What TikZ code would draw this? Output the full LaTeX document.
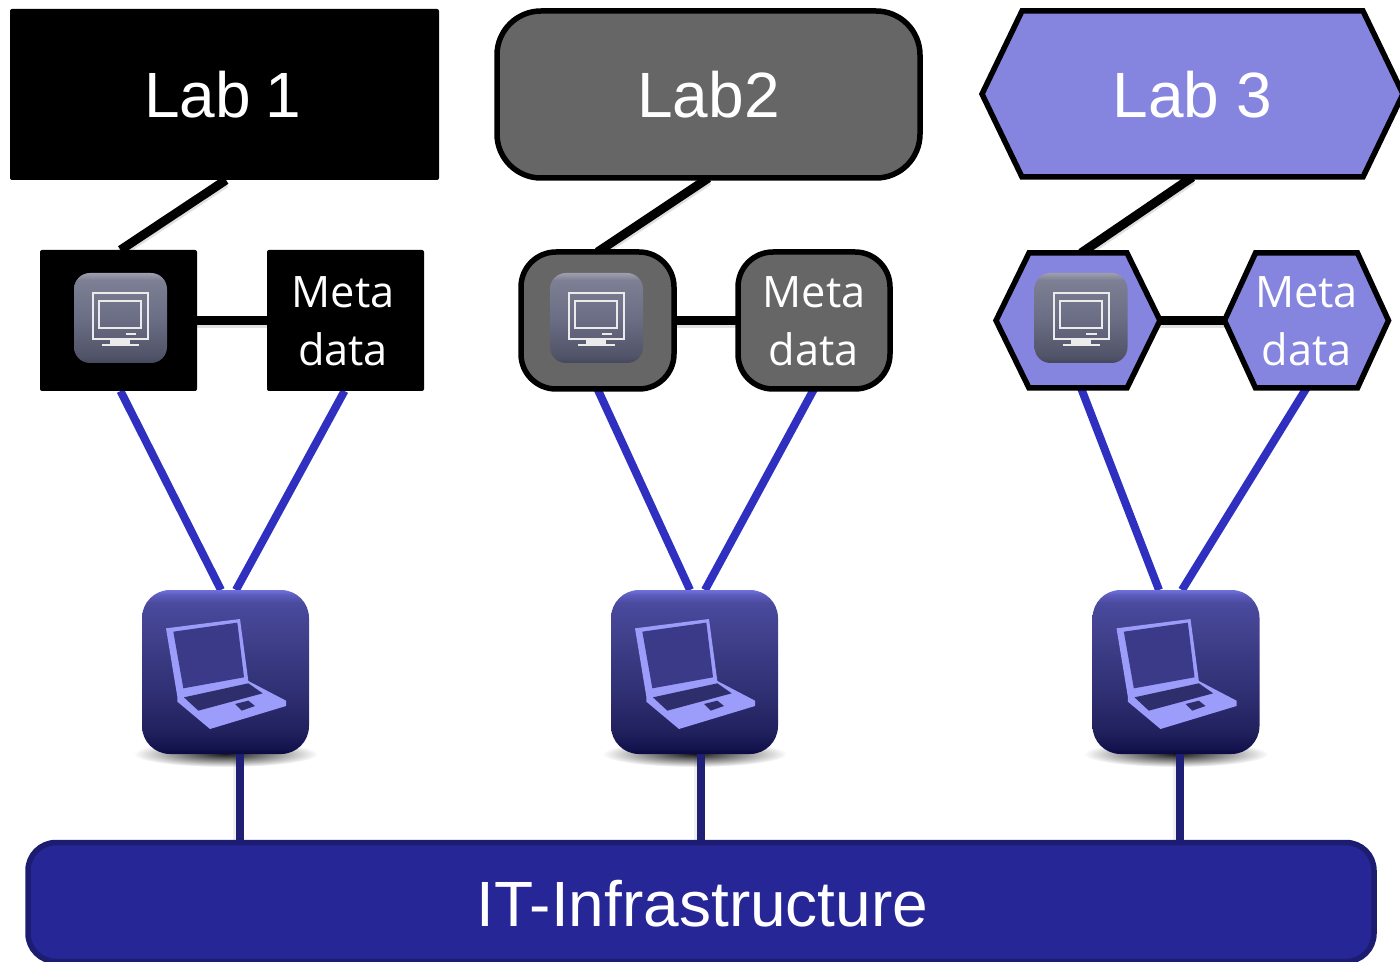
\documentclass[tikz,border=0pt]{standalone}
\usepackage{fontspec}
\setmainfont{Liberation Sans}
\newfontfamily\metafont{Open Sans}
\usetikzlibrary{fadings}
\pgfdeclarelayer{conn}\pgfdeclarelayer{bodies}
\pgfsetlayers{conn,bodies,main}
\newcommand\upx{*0.75pt}
\definecolor{labgray}{HTML}{666666}
\definecolor{labviolet}{HTML}{8585DF}
\definecolor{wireblue}{HTML}{3030C0}
\definecolor{wirenavy}{HTML}{1F1F75}
\definecolor{itfill}{HTML}{262696}
\definecolor{itline}{HTML}{1C1C70}
\definecolor{lapglyph}{HTML}{9C9CFA}
\definecolor{labdark}{HTML}{3A3A88}
\pgfdeclareverticalshading{lapshade}{100bp}{
 rgb(0bp)=(.04,.04,.25); rgb(25bp)=(.04,.04,.25);
 rgb(26.5bp)=(.07,.07,.30); rgb(32bp)=(.13,.13,.37); rgb(45bp)=(.19,.19,.46);
 rgb(58bp)=(.24,.24,.53); rgb(71bp)=(.29,.29,.62);
 rgb(73.5bp)=(.36,.36,.74); rgb(75bp)=(.44,.44,.86); rgb(100bp)=(.44,.44,.86)}
\pgfdeclareverticalshading{vmshade}{100bp}{
 rgb(0bp)=(.27,.28,.36); rgb(25bp)=(.27,.28,.36);
 rgb(29bp)=(.32,.33,.41); rgb(50bp)=(.42,.43,.52);
 rgb(71bp)=(.49,.50,.58); rgb(75bp)=(.62,.62,.68); rgb(100bp)=(.62,.62,.68)}
\tikzfading[name=softblob,inner color=transparent!0,outer color=transparent!100]
\tikzset{
 x=0.75pt,y=-0.75pt,
 box/.style={inner sep=0pt,outer sep=0pt,text=white,align=center},
 bigtext/.style={font=\fontsize{48}{57}\selectfont},
 metatext/.style={font=\metafont\fontsize{32.5}{43}\selectfont},
 squarebox/.style={box,fill=black,rounded corners=2\upx},
 roundbox/.style={box,draw=black,line width=5.5\upx,fill=labgray},
 hexnode/.style={box},
 hexbody/.style={draw=black,line width=5.5\upx,fill=labviolet,line join=miter},
 blackwire/.style={draw=black,line width=9\upx,preaction={draw=black,draw opacity=.12,line width=9\upx,transform canvas={yshift=-3\upx}}},
 bluewire/.style={draw=wireblue,line width=8\upx},
 navywire/.style={draw=wirenavy,line width=8\upx,preaction={draw=black,draw opacity=.06,line width=8\upx,transform canvas={xshift=-3\upx}}},
 lapicon/.style={inner sep=0pt,outer sep=0pt,minimum width=167\upx,minimum height=164\upx,rounded corners=28\upx,shading=lapshade},
 vmicon/.style={inner sep=0pt,outer sep=0pt,minimum width=93\upx,minimum height=90\upx,rounded corners=16\upx,shading=vmshade},
 softshadow/.style={fill=black,path fading=softblob},
 lapglyphpic/.pic={
  \begin{scope}[xshift=-22\upx,yshift=10\upx,scale=1/3]
   \fill[lapglyph,line join=round] (138,145) -- (360,117) -- (385,303) -- (498,362) -- (498,378) -- (270,447) -- (172,365) -- (172,350) -- cycle;
   \fill[labdark] (160,155) -- (352,128) -- (372,292) -- (190,325) -- cycle;
   \fill[labdark!80!black] (192,352) -- (385,310) -- (428,340) -- (235,392) -- cycle;
   \fill[labdark!80!black] (345,372) -- (385,362) -- (405,378) -- (365,392) -- cycle;
  \end{scope}},
 vmglyphpic/.pic={
  \begin{scope}[white!92!black,line width=2\upx,xshift=-74.3\upx,yshift=272.7\upx]
   \draw (93.3,292.3) rectangle (148.3,339);
   \draw (99.3,301) rectangle (141.7,327.3);
   \draw (126,333.3) -- (136.7,333.3);
   \fill (110.7,340) rectangle (130.7,345);
   \draw (102.7,345) -- (139.3,345);
  \end{scope}}
}
\newcommand\hexpath[2]{%
 \begin{pgfonlayer}{bodies}
 \draw[hexbody] (#1.west) -- ([xshift=#2\upx]#1.north west) -- ([xshift=-#2\upx]#1.north east) -- (#1.east) -- ([xshift=-#2\upx]#1.south east) -- ([xshift=#2\upx]#1.south west) -- cycle;
 \end{pgfonlayer}}
\newcommand\baselineat[2]{\raisebox{-#1pt}[1pt][1pt]{#2}}
\newcommand\metalines[1]{\raisebox{0pt}[24.2pt][0pt]{Meta}\hspace*{#1}\\\raisebox{0pt}[0pt][0pt]{data}\hspace*{#1}}
\begin{document}
\begin{tikzpicture}
\useasboundingbox (0,0) rectangle (1400,962);
% labs
\node[squarebox,bigtext,minimum width=429\upx,minimum height=171\upx] (lab1) at (224.5,94.5) {\baselineat{17.4}{Lab\hspace{-2.5pt} 1}\hspace{3pt}};
\node[roundbox,bigtext,minimum width=423\upx,minimum height=167\upx,rounded corners=44\upx] (lab2) at (708.5,94.5) {\baselineat{17.4}{Lab2}};
\node[hexnode,bigtext,minimum width=421\upx,minimum height=166\upx] (lab3) at (1192.5,94) {\baselineat{17.7}{Lab 3}};
\hexpath{lab3}{40}
% vm / meta boxes
\node[squarebox,minimum width=157\upx,minimum height=141\upx] (vmbox1) at (118.5,320.5) {};
\node[squarebox,metatext,minimum width=157\upx,minimum height=141\upx] (meta1) at (345.5,320.5) {\metalines{3.7pt}};
\node[roundbox,minimum width=153\upx,minimum height=137\upx,rounded corners=35\upx] (vmbox2) at (597.5,320.5) {};
\node[roundbox,metatext,minimum width=152\upx,minimum height=137\upx,rounded corners=35\upx] (meta2) at (814,320.5) {\metalines{0pt}};
\node[hexnode,minimum width=164\upx,minimum height=135\upx] (vmbox3) at (1078,320.5) {};
\hexpath{vmbox3}{33}
\node[hexnode,metatext,minimum width=164\upx,minimum height=135\upx] (meta3) at (1306.5,320.5) {\metalines{0pt}};
\hexpath{meta3}{31}
% vm icons
\node[vmicon] (vm1) at (120.5,318) {};
\node[vmicon] (vm2) at (596.5,318) {};
\node[vmicon] (vm3) at (1081,318) {};
\foreach \n in {vm1,vm2,vm3} {\pic at (\n.north west) {vmglyphpic};}
% laptops
\node[lapicon] (lap1) at (225.5,672) {};
\node[lapicon] (lap2) at (694.5,672) {};
\node[lapicon] (lap3) at (1176,672) {};
\foreach \n in {lap1,lap2,lap3} {\pic at (\n.north west) {lapglyphpic};}
% infrastructure
\node[box,draw=itline,fill=itfill,line width=5.5\upx,rounded corners=28\upx,font=\fontsize{48}{57}\selectfont,minimum width=1346\upx,minimum height=119\upx] (it) at (701,902) {\hspace*{2pt}\baselineat{18.5}{IT-Infrastructure}};
% connectors and soft shadows
\begin{pgfonlayer}{conn}
\foreach \n in {lap1,lap2,lap3} {\fill[softshadow,opacity=.9] (\n.south) ellipse (92 and 13);}
\foreach \n in {vm1,vm2,vm3} {\fill[softshadow,opacity=.7] (\n.south) ellipse (52 and 7);}
\draw[blackwire] (lab1.south) ++(1.5,0) -- (vmbox1.north -| vm1.north);
\draw[blackwire] (lab2.south) -- (vmbox2.north);
\draw[blackwire] (lab3.south) -- (vmbox3.north -| vm3.north);
\draw[blackwire] (vmbox1.east) -- (meta1.west);
\draw[blackwire] (vmbox2.east) -- (meta2.west);
\draw[blackwire] (vmbox3.east) -- (meta3.west);
\draw[bluewire] (vmbox1.south -| vm1.south) -- ([xshift=-4.5\upx]lap1.north);
\draw[bluewire] ([xshift=-1\upx]meta1.south) -- ([xshift=10.5\upx]lap1.north);
\draw[bluewire] (vmbox2.south) -- ([xshift=-4.5\upx]lap2.north);
\draw[bluewire] (meta2.south) -- ([xshift=10.5\upx]lap2.north);
\draw[bluewire] (vmbox3.south -| vm3.south) -- ([xshift=-17\upx]lap3.north);
\draw[bluewire] (meta3.south) -- ([xshift=6\upx]lap3.north);
\draw[navywire] ([xshift=14.5\upx]lap1.south) -- ([xshift=14.5\upx]lap1.south |- it.north);
\draw[navywire] ([xshift=6.5\upx]lap2.south) -- ([xshift=6.5\upx]lap2.south |- it.north);
\draw[navywire] ([xshift=4\upx]lap3.south) -- ([xshift=4\upx]lap3.south |- it.north);
\end{pgfonlayer}
\end{tikzpicture}
\end{document}
